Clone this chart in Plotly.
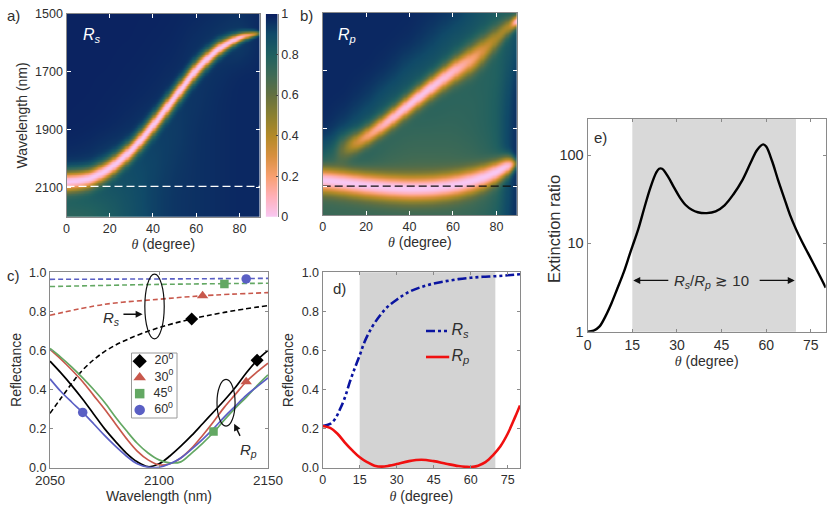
import numpy as np
import plotly.graph_objects as go

W, H = 831, 512

# ---------- heatmap readings ----------
theta_nodes = [0, 10, 20, 30, 40, 50, 60, 70, 80, 85, 90]
wl_nodes = [1500, 1600, 1700, 1800, 1900, 2000, 2100, 2200]

# Smooth backgrounds, one row per wavelength node
rs_background = [
    [0.99, 0.99, 0.99, 0.99, 0.99, 0.985, 0.98, 0.97, 0.96, 0.97, 0.98],
    [0.99, 0.99, 0.99, 0.99, 0.985, 0.98, 0.96, 0.94, 0.92, 0.95, 0.98],
    [0.99, 0.99, 0.99, 0.985, 0.98, 0.97, 0.95, 0.96, 0.98, 0.98, 0.98],
    [0.99, 0.99, 0.985, 0.98, 0.97, 0.94, 0.95, 0.97, 0.98, 0.98, 0.98],
    [0.99, 0.985, 0.98, 0.96, 0.93, 0.93, 0.96, 0.97, 0.98, 0.98, 0.98],
    [0.97, 0.96, 0.92, 0.90, 0.91, 0.94, 0.96, 0.97, 0.98, 0.98, 0.98],
    [0.86, 0.85, 0.85, 0.88, 0.92, 0.95, 0.96, 0.97, 0.98, 0.98, 0.98],
    [0.74, 0.76, 0.81, 0.87, 0.92, 0.95, 0.96, 0.97, 0.98, 0.98, 0.98],
]
rp_background = [
    [0.98, 0.98, 0.98, 0.98, 0.98, 0.97, 0.95, 0.88, 0.82, 0.80, 0.86],
    [0.98, 0.98, 0.98, 0.98, 0.97, 0.92, 0.85, 0.82, 0.80, 0.82, 0.90],
    [0.98, 0.98, 0.98, 0.96, 0.88, 0.84, 0.80, 0.78, 0.78, 0.86, 0.96],
    [0.98, 0.98, 0.94, 0.85, 0.80, 0.78, 0.76, 0.76, 0.80, 0.90, 0.98],
    [0.98, 0.92, 0.82, 0.76, 0.74, 0.74, 0.74, 0.76, 0.80, 0.92, 0.98],
    [0.86, 0.80, 0.76, 0.72, 0.70, 0.70, 0.70, 0.72, 0.78, 0.92, 0.98],
    [0.70, 0.68, 0.66, 0.64, 0.62, 0.62, 0.64, 0.66, 0.74, 0.90, 0.98],
    [0.72, 0.72, 0.72, 0.72, 0.72, 0.72, 0.72, 0.74, 0.80, 0.92, 0.98],
]

rs_theta = [0, 10, 20, 30, 40, 50, 60, 70, 80, 88, 90]
rs_center = [2079, 2071, 2033, 1970, 1883, 1785, 1688, 1618, 1578, 1566, 1565]
rs_width = [34, 32, 31, 31, 32, 32, 30, 24, 15, 9, 5]
rs_depth = [1.0, 1.0, 1.0, 1.0, 1.0, 1.0, 1.0, 1.0, 0.95, 0.6, 0.1]

rp1_theta = [0, 5, 10, 15, 20, 30, 40, 50, 60, 70, 75, 80, 85, 86, 88, 89, 90]
rp1_center = [2010, 1985, 1965, 1950, 1928, 1875, 1815, 1757, 1702, 1654, 1622, 1585, 1550, 1542, 1530, 1526, 1524]
rp1_width = [60, 50, 42, 34, 32, 32, 34, 36, 40, 46, 44, 40, 30, 26, 20, 18, 18]
rp1_depth = [0.05, 0.10, 0.36, 0.60, 0.74, 0.92, 0.98, 0.98, 0.92, 0.74, 0.58, 0.46, 0.48, 0.52, 0.85, 1.0, 1.0]

rp2_theta = [0, 10, 20, 30, 40, 50, 60, 70, 75, 80, 85, 87, 90]
rp2_center = [2079, 2087, 2097, 2104, 2108, 2106, 2097, 2079, 2066, 2050, 2028, 2022, 2020]
rp2_width = [40, 40, 40, 40, 40, 40, 40, 39, 38, 36, 33, 26, 10]
rp2_depth = [1.0, 1.0, 1.0, 1.0, 1.0, 1.0, 1.0, 1.0, 1.0, 1.0, 0.98, 0.85, 0.1]

# ---------- panel c ----------
wl_c = [2050, 2055, 2060, 2065, 2070, 2075, 2080, 2085, 2090, 2095, 2100, 2105, 2110, 2115, 2120, 2125, 2130, 2135, 2140, 2145, 2150]
rp_20 = [.545, .485, .42, .35, .275, .20, .135, .075, .03, .005, .02, .06, .11, .165, .225, .285, .345, .41, .485, .55, .60]
rp_30 = [.605, .555, .50, .44, .37, .30, .225, .15, .085, .04, .015, .02, .05, .10, .165, .235, .31, .375, .44, .49, .535]
rp_45 = [.61, .565, .515, .46, .40, .335, .26, .19, .125, .075, .04, .025, .03, .075, .125, .18, .245, .305, .36, .42, .475]
rp_60 = [.455, .39, .335, .283, .225, .165, .11, .06, .02, .003, .002, .02, .05, .095, .145, .20, .26, .315, .37, .415, .46]

wl_rs20 = [2050, 2055, 2065, 2075, 2085, 2100, 2115, 2130, 2150]
rs_20 = [.278, .355, .50, .594, .654, .717, .761, .795, .83]
wl_rs30 = [2050, 2075, 2100, 2120, 2150]
rs_30 = [.78, .836, .862, .88, .896]
wl_rs45 = [2050, 2100, 2150]
rs_45 = [.927, .938, .944]
wl_rs60 = [2050, 2100, 2150]
rs_60 = [.964, .966, .969]

mark_wl = {"20": [2115, 2145], "30": [2120, 2140], "45": [2130, 2125], "60": [2140, 2065]}
mark_r = {"20": [.761, .55], "30": [.88, .44], "45": [.94, .185], "60": [.966, .283]}

# ---------- panel d ----------
th_rs = [0, 3, 5, 7, 9, 11, 13, 15, 17, 20, 23, 26, 30, 35, 40, 45, 50, 55, 60, 65, 70, 75, 80]
rs_d = [.215, .225, .25, .30, .36, .44, .51, .575, .645, .72, .775, .82, .86, .90, .925, .943, .955, .965, .972, .977, .98, .985, .99]
th_rp = [0, 3, 6, 9, 12, 15, 18, 21, 24, 27, 30, 35, 40, 45, 50, 55, 58, 60, 63, 66, 69, 72, 75, 78, 80]
rp_d = [.215, .205, .175, .13, .09, .055, .03, .012, .007, .012, .02, .035, .042, .035, .022, .01, .006, .005, .012, .03, .065, .11, .175, .26, .32]

# ---------- panel e ----------
th_e = [0, 2, 4, 6, 8, 10, 12, 14, 15, 17, 19, 21, 23, 24, 25, 27, 29, 31, 33, 35, 37, 40, 43, 46, 49, 52, 55, 57, 59, 60, 62, 64, 66, 68, 70, 72, 74, 76, 78, 80]
ratio_e = [1.0, 1.03, 1.15, 1.5, 2.1, 3.1, 4.6, 7.3, 9.2, 14.5, 25, 42, 63, 70, 70, 57, 43, 33, 27, 24, 22.5, 22, 23, 27, 36, 52, 85, 115, 132, 125, 85, 52, 33, 21, 14.5, 10.5, 7.8, 5.8, 4.3, 3.15]

# legend keys of panels c and d
angle_keys = ["20", "30", "45", "60"]
pol_keys = ["Rs", "Rp"]

# colour bar
cbar_levels = [0, 0.1, 0.2, 0.3, 0.4, 0.5, 0.6, 0.7, 0.8, 0.9, 1.0]
cbar_ticks = [0, 0.2, 0.4, 0.6, 0.8, 1]
cbar_labels = ["0", "0.2", "0.4", "0.6", "0.8", "1"]

COLORS = {"20": "#000000", "30": "#c8584c", "45": "#63a863", "60": "#5a5fc4"}
SYMBOLS = {"20": "diamond", "30": "triangle-up", "45": "square", "60": "circle"}
SYM_SIZE = {"20": 10, "30": 10, "45": 8.5, "60": 9.5}

colorscale = [
    [0.00, "#f8c8f4"], [0.10, "#ffb0b8"], [0.20, "#f8a070"], [0.30, "#d89040"],
    [0.40, "#b48a28"], [0.50, "#8a8030"], [0.60, "#647040"], [0.70, "#3f6a55"],
    [0.80, "#206060"], [0.90, "#104a68"], [1.00, "#0a1f60"],
]

TH = np.linspace(0, 90, 181)
WL = np.linspace(1500, 2200, 281)


def smooth(v, sigma, axis=0):
    n = int(3 * sigma)
    k = np.exp(-0.5 * (np.arange(-n, n + 1) / sigma) ** 2)
    k /= k.sum()
    return np.apply_along_axis(lambda a: np.convolve(np.pad(a, n, mode="edge"), k, mode="valid"), axis, v)


def grid_from(bg):
    """Resample the typed background table and soften its cell edges."""
    bg = np.array(bg)
    by_theta = np.array([np.interp(TH, theta_nodes, row) for row in bg])
    g = np.array([np.interp(WL, wl_nodes, by_theta[:, j]) for j in range(len(TH))]).T
    return smooth(smooth(g, 5, axis=1), 14, axis=0)


def dip(thetas, centers, widths, depths):
    c = smooth(np.interp(TH, thetas, centers), 5)[None, :]
    w = smooth(np.interp(TH, thetas, widths), 4)[None, :]
    d = smooth(np.interp(TH, thetas, depths), 2)[None, :]
    u = (WL[:, None] - c) / w
    return 1 - d * np.exp(-np.abs(u) ** 2.0 * 0.9)


z_rs = grid_from(rs_background) * dip(rs_theta, rs_center, rs_width, rs_depth)
z_rp = grid_from(rp_background) * dip(rp1_theta, rp1_center, rp1_width, rp1_depth) * dip(rp2_theta, rp2_center, rp2_width, rp2_depth)

TXT = "#2e2e2e"
FONT = "Liberation Sans"
THETA = "<span style=\"font-family:'Liberation Serif'\"><i>θ</i></span> (degree)"
FRAME = "#8a8a8a"

fig = go.Figure()


def dom_x(a, b):
    return [a / W, b / W]


def dom_y(top, bottom):
    return [1 - bottom / H, 1 - top / H]


def ax(tick=12.5, title=14):
    return dict(showgrid=False, zeroline=False, showline=True, linecolor=FRAME, linewidth=1.3, automargin=False,
                mirror="ticks", tickfont=dict(size=tick, color=TXT, family=FONT),
                title_font=dict(size=title, color=TXT, family=FONT))


hidden = dict(visible=False, showgrid=False, zeroline=False, fixedrange=True)

layout = dict(
    width=W, height=H, autosize=False, margin=dict(l=0, r=0, t=0, b=0),
    paper_bgcolor="white", plot_bgcolor="rgba(0,0,0,0)", showlegend=False,
    font=dict(family=FONT, color=TXT, size=12.5),
    xaxis=dict(anchor="y", domain=dom_x(66.5, 260), range=[0, 89.5], tickvals=[0, 20, 40, 60, 80], ticks="inside", tickcolor="white", ticklen=4,
               title=dict(text=THETA, standoff=3), **ax()),
    yaxis=dict(anchor="x", domain=dom_y(14, 216.7), range=[2200, 1500], tickvals=[1500, 1700, 1900, 2100], ticks="inside", tickcolor="white", ticklen=4,
               title=dict(text="Wavelength (nm)", standoff=4), **ax()),
    xaxis2=dict(anchor="y2", domain=dom_x(322.7, 517), range=[0, 89.5], tickvals=[0, 20, 40, 60, 80], ticks="inside", tickcolor="white", ticklen=4,
                title=dict(text=THETA, standoff=3), **ax()),
    yaxis2=dict(anchor="x2", domain=dom_y(12.5, 215), range=[2200, 1500], tickvals=[1500, 1700, 1900, 2100], showticklabels=False, ticks="inside", tickcolor="white", ticklen=4, **ax()),
    xaxis3=dict(anchor="y3", domain=dom_x(50, 268), range=[2050, 2150], tickvals=[2050, 2100, 2150], ticks="inside", tickcolor=FRAME, ticklen=3,
                title=dict(text="Wavelength (nm)", standoff=2), **ax(13.5)),
    yaxis3=dict(anchor="x3", domain=dom_y(272.3, 467.7), range=[0, 1], tickvals=[0, .2, .4, .6, .8, 1], tickformat=".1f", ticks="inside", tickcolor=FRAME, ticklen=3,
                title=dict(text="Reflectance", standoff=4), **ax()),
    xaxis4=dict(anchor="y4", domain=dom_x(322.7, 520), range=[0, 80], tickvals=[0, 15, 30, 45, 60, 75], ticks="inside", tickcolor=FRAME, ticklen=3,
                title=dict(text=THETA, standoff=5), **ax()),
    yaxis4=dict(anchor="x4", domain=dom_y(272.3, 468), range=[0, 1], tickvals=[0, .2, .4, .6, .8, 1], tickformat=".1f", ticks="inside", tickcolor=FRAME, ticklen=3,
                title=dict(text="Reflectance", standoff=4), **ax()),
    xaxis5=dict(anchor="y5", domain=dom_x(587.7, 825.7), range=[0, 80], tickvals=[0, 15, 30, 45, 60, 75], ticks="inside", tickcolor=FRAME, ticklen=3,
                title=dict(text=THETA, standoff=1), **ax(14)),
    yaxis5=dict(anchor="x5", domain=dom_y(119, 331.7), type="log", range=[0, 2.408], tickvals=[1, 10, 100], ticktext=["1", "10", "100"], ticks="inside", tickcolor=FRAME, ticklen=3,
                **ax(14.5, 16.5)),
    # legend panels as small overlay axes
    xaxis6=dict(anchor="y6", domain=dom_x(131.5, 177), range=[0, 1], **hidden),
    yaxis6=dict(anchor="x6", domain=dom_y(353, 418), type="category", categoryorder="array", categoryarray=angle_keys[::-1], range=[-0.5, 3.5], **hidden),
    xaxis7=dict(anchor="y7", domain=dom_x(426, 480), range=[0, 1], **hidden),
    yaxis7=dict(anchor="x7", domain=dom_y(318, 370), type="category", categoryorder="array", categoryarray=pol_keys[::-1], range=[-0.5, 1.5], **hidden),
    # colour bar as its own axis
    xaxis8=dict(anchor="y8", domain=dom_x(265.7, 277.7), range=[0, 1], visible=False, showgrid=False, zeroline=False),
    yaxis8=dict(anchor="free", position=277.7 / W, side="right", domain=dom_y(14, 216.7), range=[0, 1], tickvals=cbar_ticks, ticktext=cbar_labels,
                ticks="inside", ticklen=2, tickcolor="#444",
                **{k: v for k, v in ax().items() if k != "mirror"}, mirror=True),
    coloraxis=dict(cmin=0, cmax=1, colorscale=colorscale, showscale=False),
)

# ----- heatmaps -----
fig.add_trace(go.Heatmap(x=TH, y=WL, z=z_rs, coloraxis="coloraxis", zsmooth="best", xaxis="x", yaxis="y"))
fig.add_trace(go.Heatmap(x=TH, y=WL, z=z_rp, coloraxis="coloraxis", zsmooth="best", xaxis="x2", yaxis="y2"))
fig.add_trace(go.Heatmap(x=[0, 1], y=cbar_levels, z=[[v, v] for v in cbar_levels], coloraxis="coloraxis", zsmooth="best", xaxis="x8", yaxis="y8"))
fig.add_trace(go.Scatter(x=[0, 90], y=[2095, 2095], mode="lines", line=dict(color="white", width=1.3, dash="8px,4px"), xaxis="x", yaxis="y"))
fig.add_trace(go.Scatter(x=[0, 90], y=[2100, 2100], mode="lines", line=dict(color="#111111", width=1.3, dash="8px,4px"), xaxis="x2", yaxis="y2"))

# ----- panel c -----
for key, xs, ys in [("20", wl_rs20, rs_20), ("30", wl_rs30, rs_30), ("45", wl_rs45, rs_45), ("60", wl_rs60, rs_60)]:
    fig.add_trace(go.Scatter(x=xs, y=ys, mode="lines", line=dict(color=COLORS[key], width=1.6, dash="5px,3px", shape="spline"), xaxis="x3", yaxis="y3"))
for key, ys in [("20", rp_20), ("30", rp_30), ("45", rp_45), ("60", rp_60)]:
    fig.add_trace(go.Scatter(x=wl_c, y=ys, mode="lines", line=dict(color=COLORS[key], width=1.7, shape="spline"), xaxis="x3", yaxis="y3"))
for key in angle_keys:
    fig.add_trace(go.Scatter(x=mark_wl[key], y=mark_r[key], mode="markers", name=f"{key}<sup>0</sup>",
                             marker=dict(color=COLORS[key], symbol=SYMBOLS[key], size=SYM_SIZE[key]),
                             xaxis="x3", yaxis="y3"))
    fig.add_trace(go.Scatter(x=[0.18], y=[key], mode="markers+text", text=[f"  {key}<sup>0</sup>"], textposition="middle right",
                             textfont=dict(size=12.5, color=TXT, family=FONT),
                             marker=dict(color=COLORS[key], symbol=SYMBOLS[key], size=SYM_SIZE[key] + 1),
                             xaxis="x6", yaxis="y6", cliponaxis=False))

# ----- panel d -----
RS_STYLE = dict(color="#0a14a0", width=2.6, dash="9px,3px,3px,3px,3px,3px")
RP_STYLE = dict(color="#f01010", width=2.6)
fig.add_trace(go.Scatter(x=th_rs, y=rs_d, mode="lines", line=dict(shape="spline", **RS_STYLE), xaxis="x4", yaxis="y4"))
fig.add_trace(go.Scatter(x=th_rp, y=rp_d, mode="lines", line=dict(shape="spline", **RP_STYLE), xaxis="x4", yaxis="y4"))
for key, style, label in [("Rs", RS_STYLE, "<i>R<sub>s</sub></i>"), ("Rp", RP_STYLE, "<i>R<sub>p</sub></i>")]:
    fig.add_trace(go.Scatter(x=[0.0, 0.43], y=[key, key], mode="lines", line=style, xaxis="x7", yaxis="y7", cliponaxis=False))
    fig.add_trace(go.Scatter(x=[0.47], y=[key], mode="text", text=[label], textposition="middle right",
                             textfont=dict(size=16, color=TXT, family=FONT), xaxis="x7", yaxis="y7", cliponaxis=False))

# ----- panel e -----
fig.add_trace(go.Scatter(x=th_e, y=ratio_e, mode="lines", line=dict(color="#000000", width=2.4, shape="spline"), xaxis="x5", yaxis="y5"))

layout["shapes"] = [
    dict(type="rect", xref="x4", yref="y4 domain", x0=15, x1=70, y0=0, y1=1, fillcolor="#d3d3d3", line_width=0, layer="below"),
    dict(type="rect", xref="x5", yref="y5 domain", x0=15, x1=70, y0=0, y1=1, fillcolor="#d9d9d9", line_width=0, layer="below"),
    dict(type="circle", xref="x3", yref="y3", x0=2093.5, x1=2102.4, y0=.659, y1=.991, line=dict(color="#111", width=1.2)),
    dict(type="circle", xref="x3", yref="y3", x0=2126.6, x1=2134.9, y0=.213, y1=.452, line=dict(color="#111", width=1.2)),
    dict(type="rect", xref="x6 domain", yref="y6 domain", x0=0, x1=1, y0=0, y1=1, fillcolor="white", line=dict(color="#9a9a9a", width=1), layer="below"),
]


def txt(text, x, y, size=13, color=TXT, **kw):
    return dict(text=text, x=x / W, y=1 - y / H, xref="paper", yref="paper", showarrow=False, xanchor="left", yanchor="middle",
                font=dict(size=size, color=color, family=FONT), **kw)


def arrow(ax0, ay, x, y, xref, yref, color="#111", width=1.4):
    return dict(x=x, y=y, ax=ax0, ay=ay, xref=xref, yref=yref, axref=xref, ayref=yref, text="", showarrow=True,
                arrowhead=2, arrowsize=1, arrowwidth=width, arrowcolor=color)


ylabel_e = txt("Extinction ratio", 554, 229, 16.5, textangle=-90)
ylabel_e["xanchor"] = "center"

layout["annotations"] = [
    txt("a)", 5, 15, 15), txt("b)", 298, 15, 15), txt("c)", 5, 275, 15), txt("d)", 331, 288, 15), txt("e)", 592, 137, 15),
    ylabel_e,
    txt("<i>R<sub>s</sub></i>", 81, 35, 16, "white"),
    txt("<i>R<sub>p</sub></i>", 336, 35, 16, "white"),
    txt("<i>R<sub>s</sub></i>", 101, 318, 15),
    txt("<i>R<sub>p</sub></i>", 238, 450, 15),
    txt("<i>R<sub>s</sub></i>/<i>R<sub>p</sub></i> ≳ 10", 672, 281, 15),
    arrow(2083, .785, 2092.5, .785, "x3", "y3"),
    arrow(2137.5, .155, 2134.5, .225, "x3", "y3"),
    arrow(27.6, .581, 15.3, .581, "x5", "y5"),
    arrow(57.3, .581, 69.6, .581, "x5", "y5"),
]

fig.update_layout(**layout)
html = fig.to_html(config={"displayModeBar": False})
html = html.replace("<body>", '<body style="margin:0;overflow:hidden">', 1)
with open("out.html", "w", encoding="utf-8") as fh:
    fh.write(html)
